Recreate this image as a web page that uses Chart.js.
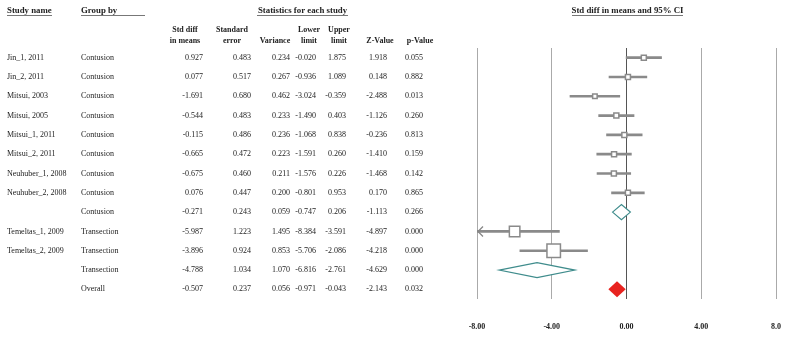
<!DOCTYPE html>
<html>
<head>
<meta charset="utf-8">
<script src="https://cdn.jsdelivr.net/npm/chart.js@4/dist/chart.umd.min.js"></script>
<style>
  html, body { margin: 0; padding: 0; background: #fff; }
  #wrap { width: 789px; height: 340px; position: relative; }
</style>
</head>
<body>
<div id="wrap"><canvas id="c" width="789" height="340"></canvas></div>
<script>
// ---------------- data ----------------
const studies  = ["Jin_1, 2011","Jin_2, 2011","Mitsui, 2003","Mitsui, 2005","Mitsui_1, 2011","Mitsui_2, 2011","Neuhuber_1, 2008","Neuhuber_2, 2008","","Temeltas_1, 2009","Temeltas_2, 2009","",""];
const groups   = ["Contusion","Contusion","Contusion","Contusion","Contusion","Contusion","Contusion","Contusion","Contusion","Transection","Transection","Transection","Overall"];
const rowType  = ["study","study","study","study","study","study","study","study","subgroup","study","study","subgroup","overall"];
const stdDiff  = [0.927,0.077,-1.691,-0.544,-0.115,-0.665,-0.675,0.076,-0.271,-5.987,-3.896,-4.788,-0.507];
const stdErr   = [0.483,0.517,0.680,0.483,0.486,0.472,0.460,0.447,0.243,1.223,0.924,1.034,0.237];
const variance = [0.234,0.267,0.462,0.233,0.236,0.223,0.211,0.200,0.059,1.495,0.853,1.070,0.056];
const lower    = [-0.020,-0.936,-3.024,-1.490,-1.068,-1.591,-1.576,-0.801,-0.747,-8.384,-5.706,-6.816,-0.971];
const upper    = [1.875,1.089,-0.359,0.403,0.838,0.260,0.226,0.953,0.206,-3.591,-2.086,-2.761,-0.043];
const zValue   = [1.918,0.148,-2.488,-1.126,-0.236,-1.410,-1.468,0.170,-1.113,-4.897,-4.218,-4.629,-2.143];
const pValue   = [0.055,0.882,0.013,0.260,0.813,0.159,0.142,0.865,0.266,0.000,0.000,0.000,0.032];
const tickValues = [-8, -4, 0, 4, 8];
const tickLabels = ["-8.00","-4.00","0.00","4.00","8.0"];

// ---------------- styling (not data) ----------------
const boxSide = [5,5,4.5,5,5,5,5,5,0,10.5,13.5,0,0];   // marker side in px
const diamondH = {subgroup: 15, overall: 16};
const FONT = '"Liberation Serif", "DejaVu Serif", serif';
const rowLabels = studies.map((s, i) => s || groups[i]);
const studyRows = rowType.map((t, i) => t === 'study' ? i : -1).filter(i => i >= 0);

const numCols = [
  {vals: stdDiff,  head: ["Std diff","in means"], hx: 185, vx: 203},
  {vals: stdErr,   head: ["Standard","error"],    hx: 232, vx: 251},
  {vals: variance, head: ["","Variance"],         hx: 275, vx: 290},
  {vals: lower,    head: ["Lower","limit"],       hx: 309, vx: 316},
  {vals: upper,    head: ["Upper","limit"],       hx: 339, vx: 346},
  {vals: zValue,   head: ["","Z-Value"],          hx: 380, vx: 387},
  {vals: pValue,   head: ["","p-Value"],          hx: 420, vx: 423}
];

const tablePlugin = {
  id: 'tablePlugin',
  afterDatasetsDraw(chart) {
    const {ctx, scales: {x, y}} = chart;
    ctx.save();
    rowType.forEach((t, i) => {
      if (t === 'study') return;
      const yc = y.getPixelForValue(i);
      const h = diamondH[t] / 2;
      const xl = x.getPixelForValue(lower[i]);
      const xm = x.getPixelForValue(stdDiff[i]);
      const xr = x.getPixelForValue(upper[i]);
      ctx.beginPath();
      ctx.moveTo(xl, yc);
      ctx.lineTo(xm, yc - h);
      ctx.lineTo(xr, yc);
      ctx.lineTo(xm, yc + h);
      ctx.closePath();
      if (t === 'overall') {
        ctx.fillStyle = '#e8231f';
        ctx.fill();
      } else {
        ctx.fillStyle = '#ffffff';
        ctx.fill();
        ctx.strokeStyle = '#3f8c8c';
        ctx.lineWidth = 1.2;
        ctx.stroke();
      }
    });
    studyRows.forEach(i => {
      const yc = y.getPixelForValue(i);
      if (lower[i] < x.min) {
        const xa = x.getPixelForValue(x.min);
        ctx.beginPath();
        ctx.moveTo(xa + 6, yc - 5);
        ctx.lineTo(xa + 1, yc);
        ctx.lineTo(xa + 6, yc + 5);
        ctx.strokeStyle = '#888';
        ctx.lineWidth = 1.3;
        ctx.stroke();
      }
    });
    ctx.restore();
  },
  afterDraw(chart) {
    const {ctx, scales: {y}} = chart;
    ctx.save();
    ctx.fillStyle = '#222';
    ctx.textBaseline = 'middle';
    ctx.font = 'bold 8.8px ' + FONT;
    ctx.textAlign = 'left';
    ctx.fillText('Study name', 7, 11);
    ctx.fillText('Group by', 81, 11);
    ctx.textAlign = 'center';
    ctx.fillText('Statistics for each study', 302.5, 11);
    ctx.fillText('Std diff in means and 95% CI', 627.5, 11);
    ctx.strokeStyle = '#777';
    ctx.lineWidth = 1;
    [[7, 52], [81, 145], [257, 348], [572, 683]].forEach(([a, b]) => {
      ctx.beginPath(); ctx.moveTo(a, 15.5); ctx.lineTo(b, 15.5); ctx.stroke();
    });
    ctx.font = 'bold 8px ' + FONT;
    numCols.forEach(c => {
      if (c.head[0]) ctx.fillText(c.head[0], c.hx, 30);
      ctx.fillText(c.head[1], c.hx, 41);
    });
    ctx.font = '8px ' + FONT;
    rowLabels.forEach((_, i) => {
      const yc = y.getPixelForValue(i);
      ctx.textAlign = 'left';
      if (studies[i]) ctx.fillText(studies[i], 7, yc);
      ctx.fillText(groups[i], 81, yc);
      ctx.textAlign = 'right';
      numCols.forEach(c => ctx.fillText(c.vals[i].toFixed(3), c.vx, yc));
    });
    ctx.restore();
  }
};

new Chart(document.getElementById('c'), {
  data: {
    labels: rowLabels,
    datasets: [
      {
        type: 'scatter',
        data: studyRows.map(i => ({x: stdDiff[i], y: rowLabels[i]})),
        pointStyle: 'rect',
        pointRadius: ctx => (ctx.raw ? boxSide[rowLabels.indexOf(ctx.raw.y)] : 5) / Math.SQRT2,
        pointBackgroundColor: '#ffffff',
        pointBorderColor: '#8a8a8a',
        pointBorderWidth: 1.5,
        xAxisID: 'x', yAxisID: 'y'
      },
      {
        type: 'bar',
        indexAxis: 'y',
        data: studyRows.map(i => ({x: [lower[i], upper[i]], y: rowLabels[i]})),
        backgroundColor: '#8a8a8a',
        barThickness: 2,
        xAxisID: 'x', yAxisID: 'y'
      }
    ]
  },
  options: {
    responsive: false,
    animation: false,
    devicePixelRatio: 1,
    layout: {padding: {left: 477, right: 13, top: 48, bottom: 0}},
    plugins: {legend: {display: false}, tooltip: {enabled: false}},
    scales: {
      x: {
        type: 'linear',
        position: 'bottom',
        min: -8, max: 8,
        afterBuildTicks: s => { s.ticks = tickValues.map(v => ({value: v})); },
        afterFit: s => { s.height = 41; s.paddingLeft = 0; s.paddingRight = 0; },
        ticks: {
          callback: (v) => tickLabels[tickValues.indexOf(v)],
          font: {family: FONT, size: 8, weight: 'bold'},
          color: '#222',
          padding: 23,
          maxRotation: 0
        },
        grid: {
          drawTicks: false,
          color: c => (c.tick && c.tick.value === 0) ? '#555' : '#aaa',
          lineWidth: 1
        },
        border: {display: false}
      },
      y: {
        type: 'category',
        display: false,
        offset: true
      }
    }
  },
  plugins: [tablePlugin]
});
</script>
</body>
</html>
